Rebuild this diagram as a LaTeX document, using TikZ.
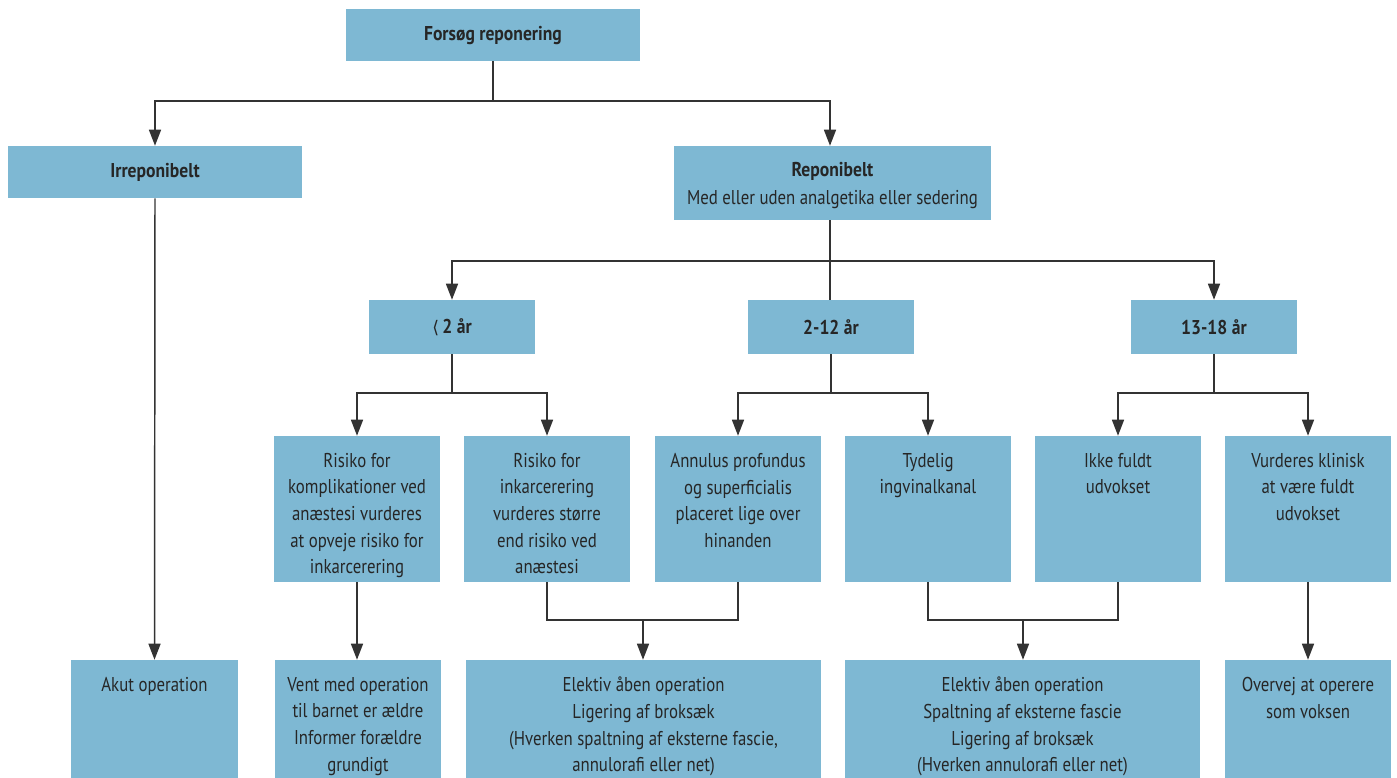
\documentclass[tikz,border=0pt]{standalone}
\usepackage{fontspec}
\setmainfont{PT Sans}[FakeStretch=0.84,BoldFeatures={FakeStretch=0.88}]
\newfontfamily\symf{DejaVu Sans}
\usetikzlibrary{arrows.meta}
\definecolor{boxblue}{HTML}{7EB8D3}
\definecolor{ink}{HTML}{262626}
\definecolor{wirec}{HTML}{333333}
\begin{document}
\begin{tikzpicture}[x=0.75pt,y=-0.75pt,
  box/.style={fill=boxblue, draw=none, inner sep=0pt},
  txt/.style={anchor=north, align=center, inner sep=0pt, text=ink, font=\fontsize{15}{19.9}\selectfont},
  btxt/.style={txt, font=\fontsize{15}{21}\selectfont\bfseries},
  agebox/.style={box, minimum width=124.5pt, minimum height=40.5pt, text=ink, font=\fontsize{15}{19.9}\selectfont\bfseries},
  wire/.style={draw=wirec, line width=1.1pt},
  arr/.style={wire, -{Triangle[width=9pt,length=12pt]}}]
\useasboundingbox (0,0) rectangle (1397,778);

% level 0
\node[box, minimum width=220.5pt, minimum height=39pt] (top) at (493,35) {};
\node[btxt] (ttop) at (493,26) {Forsøg reponering};

% level 1
\node[box, minimum width=220.5pt, minimum height=39pt] (irr) at (155,172) {};
\node[btxt] (tirr) at (155,163) {Irreponibelt};
\node[box, minimum width=237.75pt, minimum height=55.5pt] (rep) at (832.5,183) {};
\node[btxt] (trep) at (832.5,162) {Reponibelt\\\mdseries Med eller uden analgetika eller sedering};

% level 2
\node[agebox] (lt2) at (452,327) {{\symf\mdseries\fontsize{13}{15}\selectfont ⟨}\,2 år};
\node[agebox] (a212) at (831,327) {2-12 år};
\node[agebox] (a1318) at (1214,327) {13-18 år};

% level 3
\node[box, minimum width=124.5pt, minimum height=109.5pt] (ra) at (357,509) {};
\node[box, minimum width=124.5pt, minimum height=109.5pt] (rb) at (547,509) {};
\node[box, minimum width=124.5pt, minimum height=109.5pt] (rc) at (738,509) {};
\node[box, minimum width=124.5pt, minimum height=109.5pt] (rd) at (928,509) {};
\node[box, minimum width=124.5pt, minimum height=109.5pt] (re) at (1118,509) {};
\node[box, minimum width=124.5pt, minimum height=109.5pt] (rf) at (1308,509) {};
\node[txt] (tra) at (357,453) {Risiko for\\komplikationer ved\\anæstesi vurderes\\at opveje risiko for\\inkarcerering};
\node[txt] (trb) at (547,453) {Risiko for\\inkarcerering\\vurderes større\\end risiko ved\\anæstesi};
\node[txt] (trc) at (738,453) {Annulus profundus\\og superficialis\\placeret lige over\\hinanden};
\node[txt] (trd) at (928,453) {Tydelig\\ingvinalkanal};
\node[txt] (tre) at (1118,453) {Ikke fuldt\\udvokset};
\node[txt] (trf) at (1308,453) {Vurderes klinisk\\at være fuldt\\udvokset};

% level 4
\node[box, minimum width=125.25pt, minimum height=88.5pt] (akut) at (154.5,719) {};
\node[box, minimum width=124.5pt, minimum height=88.5pt] (vent) at (358,719) {};
\node[box, minimum width=266.25pt, minimum height=88.5pt] (el1) at (643.5,719) {};
\node[box, minimum width=266.25pt, minimum height=88.5pt] (el2) at (1022.5,719) {};
\node[box, minimum width=124.5pt, minimum height=88.5pt] (ovv) at (1308,719) {};
\node[txt] (takut) at (154.5,677) {Akut operation};
\node[txt] (tvent) at (358,677) {Vent med operation\\til barnet er ældre\\Informer forældre\\grundigt};
\node[txt] (tel1) at (643.5,677) {Elektiv åben operation\\Ligering af broksæk\\(Hverken spaltning af eksterne fascie,\\annulorafi eller net)};
\node[txt] (tel2) at (1022.5,677) {Elektiv åben operation\\Spaltning af eksterne fascie\\Ligering af broksæk\\(Hverken annulorafi eller net)};
\node[txt] (tovv) at (1308,677) {Overvej at operere\\som voksen};

% junctions
\coordinate (j1) at (493,101);
\coordinate (j2) at (830,261);
\coordinate (j3) at (452,393);
\coordinate (j4) at (831,393);
\coordinate (j5) at (1214,393);
\coordinate (j6) at (643,620);
\coordinate (j7) at (1023,620);

% connectors
\draw[wire] (top.south) -- (j1);
\draw[arr] (j1) -| (irr.north);
\draw[arr] (j1) -| (j2 |- rep.north);
\draw[arr] (irr.south) -- (akut.north);

\draw[wire] (j2 |- rep.south) -- (j2);
\draw[arr] (j2) -| (lt2.north);
\draw[arr] (j2) -| (a1318.north);
\draw[wire] (j2) -- (j2 |- a212.north);

\draw[wire] (lt2.south) -- (j3);
\draw[arr] (j3) -| (ra.north);
\draw[arr] (j3) -| (rb.north);
\draw[wire] (a212.south) -- (j4);
\draw[arr] (j4) -| (rc.north);
\draw[arr] (j4) -| (rd.north);
\draw[wire] (a1318.south) -- (j5);
\draw[arr] (j5) -| (re.north);
\draw[arr] (j5) -| (rf.north);

\draw[arr] (ra.south) -- (ra.south |- vent.north);
\draw[wire] (rb.south) |- (j6) -| (rc.south);
\draw[arr] (j6) -- (j6 |- el1.north);
\draw[wire] (rd.south) |- (j7) -| (re.south);
\draw[arr] (j7) -- (j7 |- el2.north);
\draw[arr] (rf.south) -- (ovv.north);
\end{tikzpicture}
\end{document}
